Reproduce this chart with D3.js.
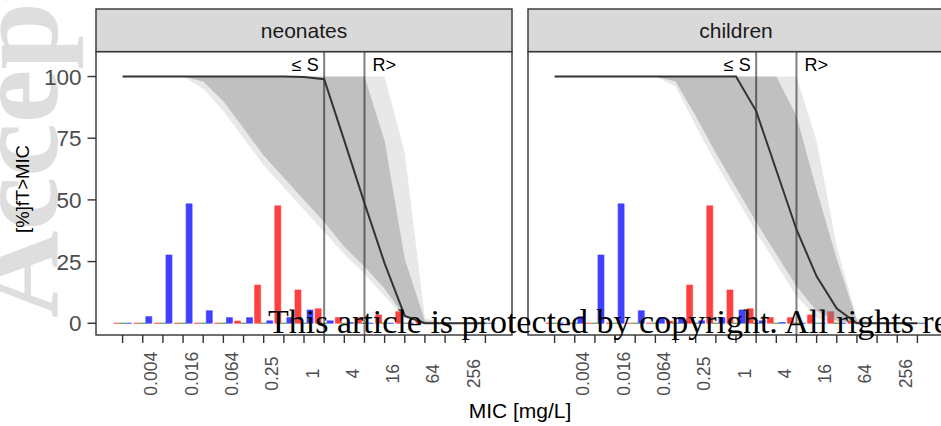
<!DOCTYPE html>
<html>
<head>
<meta charset="utf-8">
<script src="https://cdn.jsdelivr.net/npm/d3@7"></script>
<style>
  html, body { margin: 0; padding: 0; background: #fff; overflow: hidden; }
  svg { display: block; font-family: "Liberation Sans", Arial, Helvetica, sans-serif; }
</style>
</head>
<body>
<svg id="chart" width="941" height="426"></svg>
<script>
// MIC grid (mg/L), doubling dilutions 2^-9 .. 2^9
const micValues = [0.001953125, 0.00390625, 0.0078125, 0.015625, 0.03125, 0.0625, 0.125, 0.25, 0.5,
                   1, 2, 4, 8, 16, 32, 64, 128, 256, 512];
const axisTickMics = [0.00390625, 0.015625, 0.0625, 0.25, 1, 4, 16, 64, 256];
const axisTickLabels = ["0.004", "0.016", "0.064", "0.25", "1", "4", "16", "64", "256"];
const yTickValues = [0, 25, 50, 75, 100];

// clinical breakpoints
const breakpointS = 2;
const breakpointR = 8;

// MIC distributions (% of isolates), one bar per series at each MIC
const distSeries = ["red", "green", "blue"];
const distRed   = [0, 0, 0, 0, 0, 0, 0.9, 15.5, 47.6, 13.5, 5.9, 2.3, 2.3, 3.4, 4.7, 1.0, 0, 0, 0];
const distGreen = [0, 0, 0, 0, 0, 0, 0, 0, 0, 0, 0, 0, 0, 0, 0, 0, 0, 0, 0];
const distBlue  = [0, 2.7, 27.7, 48.4, 5.1, 2.3, 2.3, 1.0, 2.3, 5.4, 1.0, 0.3, 0, 0, 0, 0, 0, 0, 0];

// probability of target attainment (%fT>MIC), per MIC
const panelNames = ["neonates", "children"];
const neonatesMedian    = [100, 100, 100, 100, 100, 100, 100, 100, 100, 99.8, 98.9, 74, 48.7, 24.3, 3, 0, 0, 0, 0];
const neonatesInnerLow  = [100, 100, 100, 100, 98, 90, 79, 68, 59, 50, 41, 31, 23, 14, 2.5, 0, 0, 0, 0];
const neonatesInnerHigh = [100, 100, 100, 100, 100, 100, 100, 100, 100, 100, 100, 100, 100, 74, 26, 1, 0, 0, 0];
const neonatesOuterLow  = [100, 100, 100, 100, 95, 86, 75, 64, 55, 46, 37, 28, 20, 11, 2, 0, 0, 0, 0];
const neonatesOuterHigh = [100, 100, 100, 100, 100, 100, 100, 100, 100, 100, 100, 100, 100, 100, 69, 2, 0, 0, 0];

const childrenMedian    = [100, 100, 100, 100, 100, 100, 100, 100, 100, 100, 86, 62, 38, 19, 6, 0, 0, 0, 0];
const childrenInnerLow  = [100, 100, 100, 100, 100, 100, 98, 84, 69, 55, 41, 28, 15, 5, 1, 0, 0, 0, 0];
const childrenInnerHigh = [100, 100, 100, 100, 100, 100, 100, 100, 100, 100, 100, 100, 84, 54, 26, 1, 0, 0, 0];
const childrenOuterLow  = [100, 100, 100, 100, 100, 100, 96, 80, 65, 51, 37, 24, 11, 2, 0, 0, 0, 0, 0];
const childrenOuterHigh = [100, 100, 100, 100, 100, 100, 100, 100, 100, 100, 100, 100, 100, 74, 31, 2, 0, 0, 0];

const panelData = {
  neonates: { median: neonatesMedian, innerLow: neonatesInnerLow, innerHigh: neonatesInnerHigh,
              outerLow: neonatesOuterLow, outerHigh: neonatesOuterHigh },
  children: { median: childrenMedian, innerLow: childrenInnerLow, innerHigh: childrenInnerHigh,
              outerLow: childrenOuterLow, outerHigh: childrenOuterHigh }
};
const distData = { red: distRed, green: distGreen, blue: distBlue };
const distFill = { red: "#ff4040", green: "#3ccf3c", blue: "#4040ff" };
const distStroke = { red: "#ff4040", green: "#2e8b2e", blue: "#4040ff" };

// ---- layout ----
const svg = d3.select("#chart");
const panelW = 416;
const panelLefts = [96, 528];
const stripTop = 9, panelTop = 51.6, panelBottom = 335;
const frame = "#333333";

const x = d3.scaleLog().base(2)
  .domain([Math.pow(2, -10.32), Math.pow(2, 10.32)])
  .range([0, panelW]);
const y = d3.scaleLinear().domain([-4.75, 110.1]).range([panelBottom, panelTop]);

const dodge = 0.3; // bar width in log2 units

// watermark behind everything
svg.append("text")
  .attr("transform", "translate(57,318) rotate(-90)")
  .attr("font-family", "'Liberation Serif', 'Times New Roman', serif")
  .attr("font-size", 121)
  .attr("font-weight", "bold")
  .attr("fill", "#dedede")
  .text("Accepted Article");

panelNames.forEach((name, pi) => {
  const px = panelLefts[pi];
  const d = panelData[name];
  const g = svg.append("g").attr("transform", `translate(${px},0)`);

  const clipId = "clip-" + name;
  g.append("clipPath").attr("id", clipId)
    .append("rect").attr("x", 0).attr("y", panelTop).attr("width", panelW).attr("height", panelBottom - panelTop);

  g.append("rect").attr("x", 0).attr("y", panelTop).attr("width", panelW).attr("height", panelBottom - panelTop)
    .attr("fill", "#fff");

  const body = g.append("g").attr("clip-path", `url(#${clipId})`);

  // dodged bars of the MIC distributions
  distSeries.forEach((s, si) => {
    const off = (si - 1) * dodge;
    body.append("g").selectAll("path")
      .data(micValues.map((m, i) => ({ m, v: distData[s][i] })))
      .join("path")
      .attr("d", p => {
        const x0 = x(p.m * Math.pow(2, off - dodge / 2));
        const x1 = x(p.m * Math.pow(2, off + dodge / 2));
        const y0 = y(0), y1 = y(p.v);
        return `M${x0},${y0}H${x1}V${y1}H${x0}Z`;
      })
      .attr("fill", distFill[s])
      .attr("stroke", distStroke[s])
      .attr("stroke-width", 0.6);
  });

  // prediction bands
  const band = (lo, hi) => d3.area()
    .x((m) => x(m))
    .y0((m, i) => y(lo[i]))
    .y1((m, i) => y(hi[i]));
  body.append("path").attr("d", band(d.outerLow, d.outerHigh)(micValues))
    .attr("fill", "#7f7f7f").attr("fill-opacity", 0.18);
  body.append("path").attr("d", band(d.innerLow, d.innerHigh)(micValues))
    .attr("fill", "#7f7f7f").attr("fill-opacity", 0.38);

  // breakpoints
  [breakpointS, breakpointR].forEach(b => {
    body.append("line")
      .attr("x1", x(b)).attr("x2", x(b)).attr("y1", panelTop).attr("y2", panelBottom)
      .attr("stroke", "#000").attr("stroke-opacity", 0.5).attr("stroke-width", 2);
  });

  // median PTA
  body.append("path")
    .attr("d", d3.line().x(m => x(m)).y((m, i) => y(d.median[i]))(micValues))
    .attr("fill", "none").attr("stroke", "#333").attr("stroke-width", 2);

  body.append("text")
    .attr("x", x(breakpointS) - 5.5).attr("y", y(104.7)).attr("dy", "0.35em")
    .attr("text-anchor", "end").attr("font-size", 18).attr("fill", "#000")
    .text("\u2264 S");
  body.append("text")
    .attr("x", x(breakpointR) + 8).attr("y", y(104.7)).attr("dy", "0.35em")
    .attr("text-anchor", "start").attr("font-size", 18).attr("fill", "#000")
    .text("R>");

  // panel frame
  g.append("rect").attr("x", 0).attr("y", panelTop).attr("width", panelW).attr("height", panelBottom - panelTop)
    .attr("fill", "none").attr("stroke", frame).attr("stroke-width", 1.4);

  // strip
  g.append("rect").attr("x", 0).attr("y", stripTop).attr("width", panelW).attr("height", panelTop - stripTop)
    .attr("fill", "#d9d9d9").attr("stroke", frame).attr("stroke-width", 1.4);
  g.append("text")
    .attr("x", panelW / 2).attr("y", (stripTop + panelTop) / 2).attr("dy", "0.36em")
    .attr("text-anchor", "middle").attr("font-size", 21).attr("fill", "#1a1a1a")
    .text(name);

  // x axis: a tick at every dilution, labels at every other
  const xAxis = g.append("g");
  xAxis.selectAll("line").data(micValues).join("line")
    .attr("x1", m => x(m)).attr("x2", m => x(m))
    .attr("y1", panelBottom).attr("y2", panelBottom + 8)
    .attr("stroke", frame).attr("stroke-width", 1.4);
  xAxis.selectAll("text").data(axisTickMics).join("text")
    .attr("transform", m => `translate(${x(m) + 1},373.7) rotate(-90)`)
    .attr("dy", "0.77em")
    .attr("text-anchor", "middle")
    .attr("font-size", 17.6).attr("fill", "#4d4d4d")
    .text((m, i) => axisTickLabels[i]);
});

// y axis on the first panel
const yAxis = svg.append("g");
yAxis.selectAll("line").data(yTickValues).join("line")
  .attr("x1", 87.5).attr("x2", panelLefts[0])
  .attr("y1", v => y(v)).attr("y2", v => y(v))
  .attr("stroke", frame).attr("stroke-width", 1.4);
yAxis.selectAll("text").data(yTickValues).join("text")
  .attr("x", 81.5).attr("y", v => y(v)).attr("dy", "0.36em")
  .attr("text-anchor", "end").attr("font-size", 22.5).attr("fill", "#4d4d4d")
  .text(v => v);

// axis titles
svg.append("text")
  .attr("transform", "translate(23,189) rotate(-90)")
  .attr("dy", "0.35em")
  .attr("text-anchor", "middle").attr("font-size", 18.5).attr("fill", "#000")
  .text("[%]fT>MIC");
svg.append("text")
  .attr("x", 520).attr("y", 418)
  .attr("text-anchor", "middle").attr("font-size", 21).attr("fill", "#000")
  .text("MIC [mg/L]");

// copyright notice over the plot
svg.append("text")
  .attr("x", 268).attr("y", 333)
  .attr("font-family", "'Liberation Serif', 'Times New Roman', serif")
  .attr("font-size", 34).attr("fill", "#000")
  .text("This article is protected by copyright. All rights reserved.");
</script>
</body>
</html>
